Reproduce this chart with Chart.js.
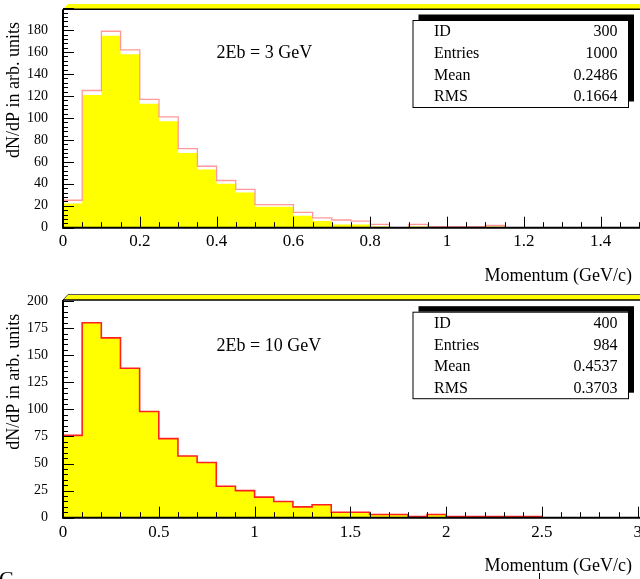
<!DOCTYPE html>
<html><head><meta charset="utf-8">
<script src="https://cdn.jsdelivr.net/npm/chart.js@4.4.1/dist/chart.umd.min.js"></script>
<style>
html,body{margin:0;padding:0;background:#fff;overflow:hidden;}
#wrap{position:relative;width:640px;height:579px;background:#fff;}
#c1{position:absolute;left:0;top:0;}
#c2{position:absolute;left:0;top:285px;}
</style></head><body>
<div id="wrap">
<canvas id="c1" width="640" height="285"></canvas>
<canvas id="c2" width="640" height="294"></canvas>
</div>
<script>
// ---------- DATA ----------
const topBinEdges = [0,0.05,0.1,0.15,0.2,0.25,0.3,0.35,0.4,0.45,0.5,0.55,0.6,0.65,0.7,0.75,0.8,0.85,0.9,0.95,1.0,1.05,1.1,1.15,1.2,1.25,1.3,1.35,1.4,1.45,1.5];
const topCountsOutline = [25,125,179,162,117,101,72,56,43,35,21,21,14,9,7,6,3,0,3,1,1,1,2,0,0,0,0,0,0,0];
const topCountsFill    = [22,121,175,158,113,97,68,53,40,32,19,19,11,6,3,3,1,0,1,0,0,0,1,0,0,0,0,0,0,0];
const bottomBinEdges = [0,0.1,0.2,0.3,0.4,0.5,0.6,0.7,0.8,0.9,1.0,1.1,1.2,1.3,1.4,1.5,1.6,1.7,1.8,1.9,2.0,2.1,2.2,2.3,2.4,2.5,2.6,2.7,2.8,2.9,3.0];
const bottomCounts = [76,180,166,138,98,73,57,51,29,25,19,15,10,12,5,5,3,3,1,3,1,1,1,1,1,0,0,0,0,0];
const topStatLabels = ['ID','Entries','Mean','RMS'];
const topStatValues = ['300','1000','0.2486','0.1664'];
const bottomStatLabels = ['ID','Entries','Mean','RMS'];
const bottomStatValues = ['400','984','0.4537','0.3703'];
const topNote = '2Eb = 3 GeV';
const bottomNote = '2Eb = 10 GeV';
const xTitle = 'Momentum (GeV/c)';
const yTitle = 'dN/dP in arb. units';

// ---------- HELPERS ----------
function steps(edges, counts){
  const pts = counts.map((c,i)=>({x:edges[i], y:c}));
  pts.push({x:edges[counts.length], y:counts[counts.length-1]});
  return pts;
}
const SERIF = "'Liberation Serif', 'DejaVu Serif', serif";
Chart.defaults.font.family = SERIF;
Chart.defaults.color = '#000';
const fmt = v => String(Number(Number(v).toFixed(3)));

const framePlugin = {
  id:'frame',
  afterDatasetsDraw(chart, args, o){
    const {ctx, chartArea:a, scales:{x, y}} = chart;
    ctx.save();
    // yellow band above the frame
    ctx.fillStyle = '#ffff00';
    ctx.beginPath();
    ctx.moveTo(a.left, a.top);
    ctx.lineTo(a.left + 5, a.top - o.band);
    ctx.lineTo(chart.width, a.top - o.band);
    ctx.lineTo(chart.width, a.top);
    ctx.closePath();
    ctx.fill();
    if (o.bandLine){
      ctx.strokeStyle = '#555'; ctx.lineWidth = 1;
      ctx.beginPath(); ctx.moveTo(a.left, a.top); ctx.lineTo(a.left+5, a.top - o.band); ctx.lineTo(chart.width, a.top - o.band); ctx.stroke();
    }
    ctx.strokeStyle = '#000';
    // ticks on x
    ctx.lineWidth = 1;
    ctx.beginPath();
    const nx = Math.round(x.max / o.xMinor + 1e-6);
    for (let i = 0; i <= nx; i++){
      const v = i * o.xMinor;
      const px = Math.round(x.getPixelForValue(v)) + 0.5;
      const major = (i % o.xPer) === 0;
      const len = major ? 11 : 5.5;
      ctx.moveTo(px, a.bottom); ctx.lineTo(px, a.bottom - len);
    }
    const ny = Math.round(y.max / o.yMinor + 1e-6);
    for (let i = 0; i <= ny; i++){
      const v = i * o.yMinor;
      const py = Math.round(y.getPixelForValue(v)) + 0.5;
      const major = (i % o.yPer) === 0;
      const len = major ? 11 : 5;
      ctx.moveTo(a.left, py); ctx.lineTo(a.left + len, py);
    }
    ctx.stroke();
    // frame lines
    ctx.lineWidth = 2;
    ctx.beginPath();
    ctx.moveTo(a.left, a.top); ctx.lineTo(a.left, a.bottom + 1);
    ctx.moveTo(a.left - 1, a.bottom); ctx.lineTo(chart.width, a.bottom);
    ctx.stroke();
    ctx.lineWidth = 1.5;
    ctx.beginPath(); ctx.moveTo(a.left, a.top); ctx.lineTo(chart.width, a.top); ctx.stroke();
    ctx.restore();
  },
  afterDraw(chart, args, o){
    const {ctx} = chart;
    ctx.save();
    // stat box with shadow
    const b = o.box;
    ctx.fillStyle = '#000';
    ctx.fillRect(b.x + 6, b.y - 5.5, b.w, b.h);
    ctx.fillStyle = '#fff';
    ctx.fillRect(b.x, b.y, b.w, b.h);
    ctx.strokeStyle = '#000'; ctx.lineWidth = 1;
    ctx.strokeRect(b.x + 0.5, b.y + 0.5, b.w, b.h);
    ctx.fillStyle = '#000';
    ctx.font = '16px ' + SERIF;
    ctx.textBaseline = 'middle';
    o.statLabels.forEach((l, i) => {
      const yy = b.y + 12 + i * 21.7;
      ctx.textAlign = 'left'; ctx.fillText(l, b.x + 21.5, yy);
      ctx.textAlign = 'right'; ctx.fillText(o.statValues[i], b.x + 205, yy);
    });
    // note
    ctx.font = '18px ' + SERIF;
    ctx.textAlign = 'left';
    ctx.fillText(o.note, 216.5, o.noteY);
    // x title
    ctx.textAlign = 'right';
    ctx.fillText(xTitle, 632, o.xTitleY);
    // y title
    ctx.save();
    ctx.translate(14, o.yTitleY);
    ctx.rotate(-Math.PI/2);
    ctx.textAlign = 'center';
    ctx.fillText(yTitle, 0, 0);
    ctx.restore();
    if (o.extra) o.extra(ctx);
    ctx.restore();
  }
};

function makeChart(id, H, areaTop, areaBottom, datasets, xMax, xStep, yMax, yStep, frameOpts, tickPad){
  return new Chart(document.getElementById(id), {
    type:'line',
    data:{datasets},
    options:{
      responsive:false, animation:false, devicePixelRatio:1,
      layout:{padding:{top:areaTop, left:0, right:0, bottom:0}},
      plugins:{legend:{display:false}, tooltip:{enabled:false}, frame: frameOpts},
      elements:{point:{radius:0}},
      scales:{
        x:{type:'linear', min:0, max:xMax,
           grid:{display:false, drawTicks:false}, border:{display:false},
           ticks:{stepSize:xStep, includeBounds:false, padding:tickPad, maxRotation:0, autoSkip:false,
                  font:{size:17, family:SERIF}, color:'#000', callback: fmt},
           afterFit(s){ s.height = H - areaBottom; s.paddingLeft = 0; s.paddingRight = 0; }},
        y:{type:'linear', min:0, max:yMax,
           grid:{display:false, drawTicks:false}, border:{display:false},
           ticks:{stepSize:yStep, includeBounds:false, padding:15, font:{size:14, family:SERIF}, color:'#000', callback: fmt},
           afterFit(s){ s.width = 63; s.paddingTop = 0; s.paddingBottom = 0; }}
      }
    },
    plugins:[framePlugin]
  });
}

makeChart('c1', 285, 9.3, 227.7, [
  {data:steps(topBinEdges, topCountsOutline), stepped:'before', borderColor:'#ff9a9a', borderWidth:1.3, fill:false, pointRadius:0},
  {data:steps(topBinEdges, topCountsFill), stepped:'before', borderColor:'rgba(0,0,0,0)', borderWidth:0, backgroundColor:'#ffff00', fill:'origin', pointRadius:0}
], 1.5026, 0.2, 199, 20, {
  band:5.3, bandLine:false, xMinor:0.05, xPer:4, yMinor:4, yPer:5,
  box:{x:412.5, y:20, w:215.5, h:87},
  statLabels:topStatLabels, statValues:topStatValues,
  note:topNote, noteY:53.5, xTitleY:276, yTitleY:90
}, 4);

makeChart('c2', 294, 15, 232.7, [
  {data:steps(bottomBinEdges, bottomCounts), stepped:'before', borderColor:'#ff2020', borderWidth:1.6, backgroundColor:'#ffff00', fill:'origin', pointRadius:0}
], 3.0115, 0.5, 201, 25, {
  band:5.5, bandLine:true, xMinor:0.1, xPer:5, yMinor:5, yPer:5,
  box:{x:412.5, y:26.7, w:215.5, h:86.5},
  statLabels:bottomStatLabels, statValues:bottomStatValues,
  note:bottomNote, noteY:61.7, xTitleY:281, yTitleY:96.7,
  extra(ctx){
    ctx.strokeStyle = '#000'; ctx.lineWidth = 1;
    ctx.beginPath(); ctx.moveTo(539.5, 288); ctx.lineTo(539.5, 294); ctx.stroke();
    ctx.font = '22px ' + SERIF; ctx.textAlign = 'left'; ctx.textBaseline = 'alphabetic';
    ctx.fillText('C', -1, 301);
  }
}, 5);
</script>
</body></html>
